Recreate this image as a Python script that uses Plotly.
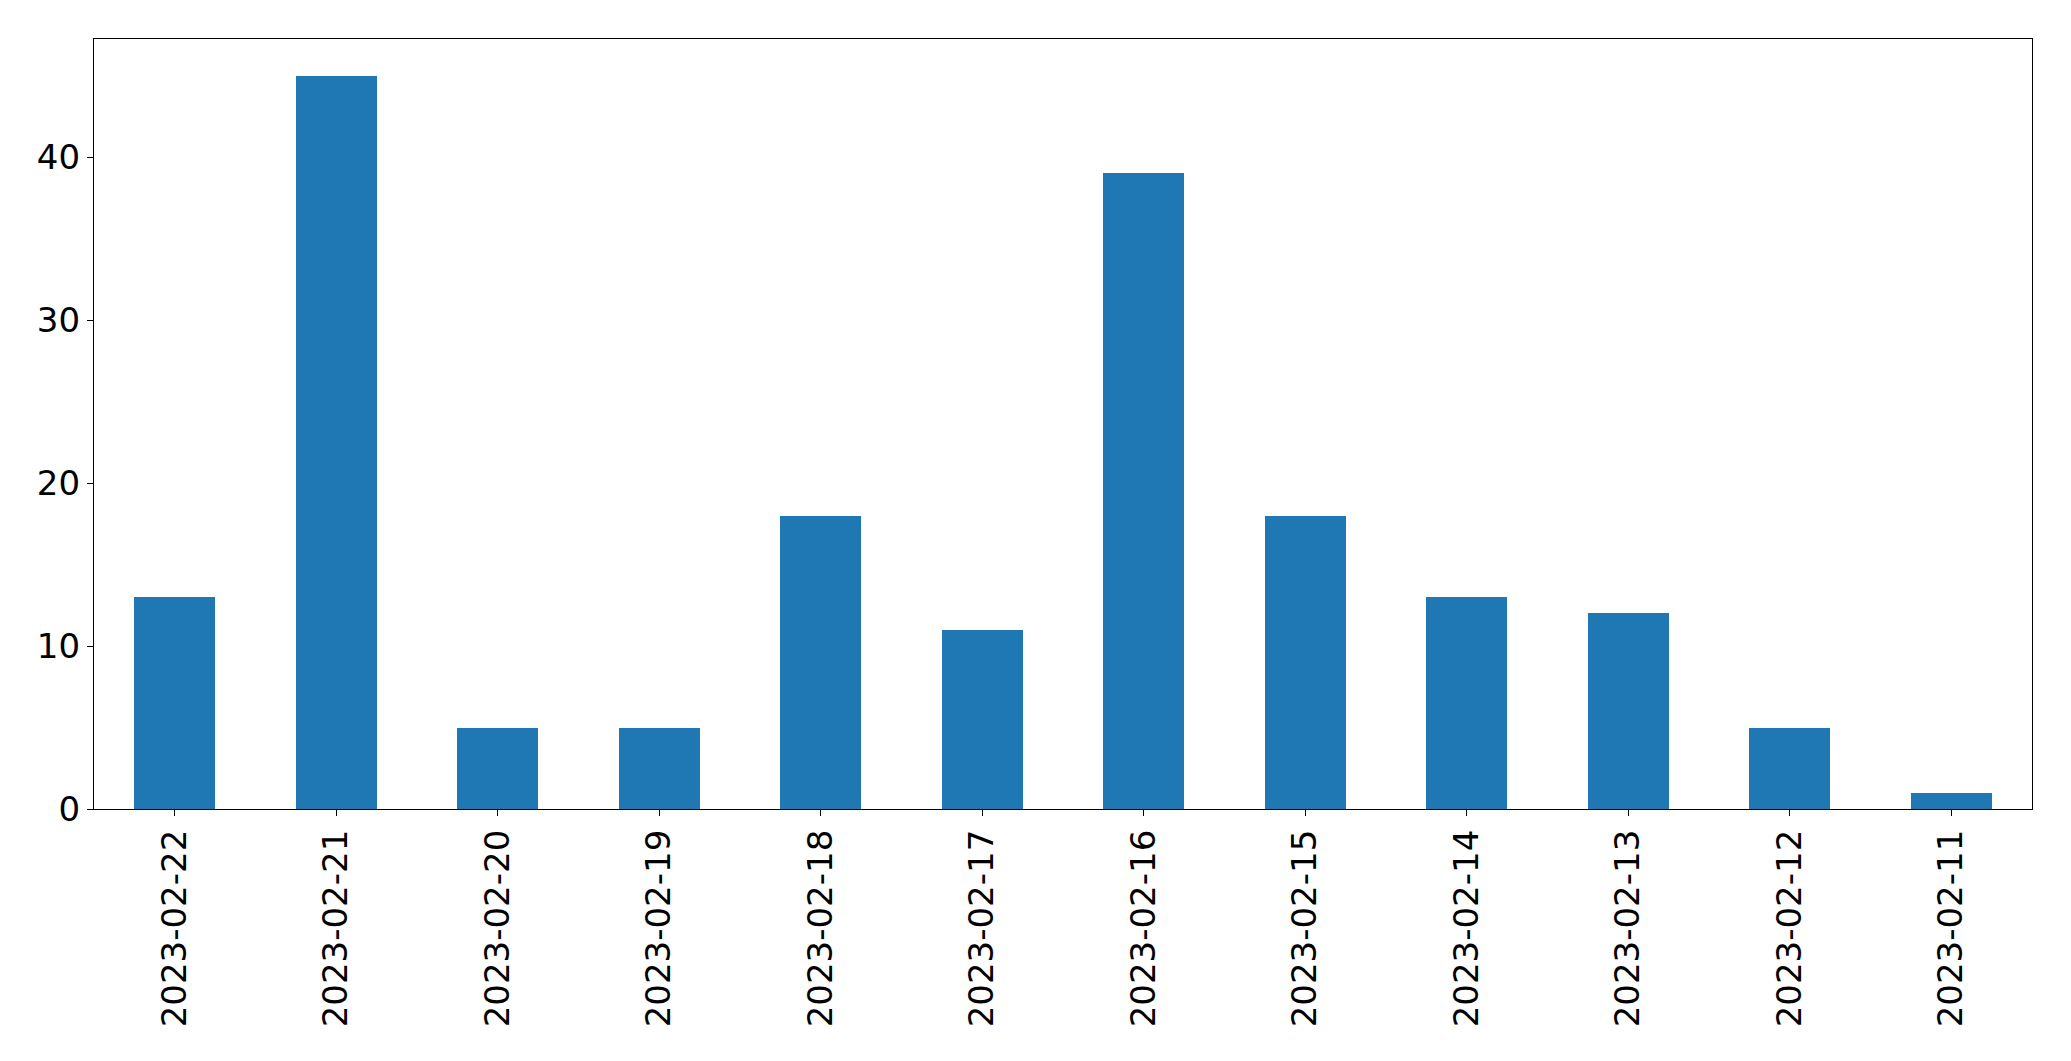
import plotly.graph_objects as go

dates = ["2023-02-22", "2023-02-21", "2023-02-20", "2023-02-19", "2023-02-18", "2023-02-17",
         "2023-02-16", "2023-02-15", "2023-02-14", "2023-02-13", "2023-02-12", "2023-02-11"]
counts = [13, 45, 5, 5, 18, 11, 39, 18, 13, 12, 5, 1]
y_ticks = [0, 10, 20, 30, 40]

fig = go.Figure(go.Bar(x=dates, y=counts, width=0.5, marker=dict(color="#1f77b4", line=dict(width=0))))

font = dict(family="DejaVu Sans", size=34, color="black")
fig.update_layout(
    width=2063, height=1053,
    margin=dict(l=86, r=39, t=31, b=252, pad=0),
    paper_bgcolor="white", plot_bgcolor="white",
    showlegend=False, bargap=0,
    font=font,
)
fig.update_xaxes(
    type="category", range=[-0.5, len(dates) - 0.5], tickangle=-90,
    showline=True, mirror=True, linecolor="black", linewidth=1.3,
    ticks="outside", ticklen=6, tickwidth=1.3, tickcolor="black",
    showgrid=False, zeroline=False, tickfont=font,
)
fig.update_yaxes(
    range=[0, 47.25], tickvals=y_ticks,
    showline=True, mirror=True, linecolor="black", linewidth=1.3,
    ticks="outside", ticklen=6, tickwidth=1.3, tickcolor="black",
    showgrid=False, zeroline=False, tickfont=font,
)

fig.write_html("out.html")
